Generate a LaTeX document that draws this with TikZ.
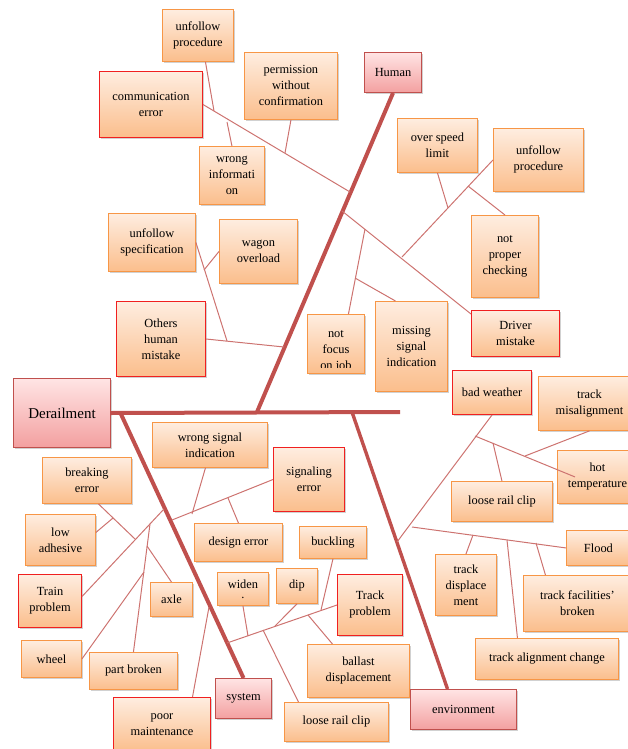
\documentclass[tikz,border=0pt]{standalone}
\usepackage{fontspec}
\setmainfont{Liberation Serif}
\usetikzlibrary{shadows,calc}
\definecolor{bone}{HTML}{C0504D}
\definecolor{twig}{RGB}{205,115,112}
\definecolor{obord}{HTML}{F79646}
\definecolor{otop}{HTML}{FEEDE0}
\definecolor{obot}{HTML}{FBBE8C}
\definecolor{rbord}{HTML}{F02020}
\definecolor{ptop}{HTML}{FFE4E4}
\definecolor{pbot}{HTML}{F3A0A0}
\definecolor{pbord}{HTML}{C0504D}
\tikzset{
  base/.style={rectangle, anchor=north west, inner sep=2pt, align=center,
    font=\fontsize{12.4}{16}\selectfont,
    drop shadow={shadow xshift=1.5pt, shadow yshift=-1.5pt, opacity=0.3, fill=black!60},
    top color=otop, bottom color=obot},
  obox/.style={base, draw=obord, line width=0.9pt},
  rbox/.style={base, draw=rbord, line width=1pt},
  pbox/.style={base, draw=pbord, line width=1pt, top color=ptop, bottom color=pbot},
  bonel/.style={draw=bone, line width=4pt},
  twigl/.style={draw=twig, line width=1pt},
  sz/.style 2 args={minimum width=#1pt, minimum height=#2pt},
}
\begin{document}
\begin{tikzpicture}[x=1pt,y=-1pt]
\useasboundingbox (0,0) rectangle (627,749);
% ---------- nodes ----------
\node[obox, sz={71}{52}] (up1) at (162,9) {unfollow\\procedure};
\node[rbox, sz={103}{66}] (comm) at (99,71) {communication\\error};
\node[obox, sz={93}{67}] (perm) at (244,52) {permission\\without\\confirmation};
\node[obox, sz={65}{58}] (winfo) at (199,146) {wrong\\informati\\on};
\node[pbox, sz={57}{40}] (human) at (364,52) {Human};
\node[obox, sz={80}{54}] (speed) at (397,118) {over speed\\limit};
\node[obox, sz={90}{63}] (up2) at (493,128) {unfollow\\procedure};
\node[obox, sz={67}{82}] (check) at (471,215) {not\\proper\\checking};
\node[rbox, sz={88}{46}] (driver) at (471,310) {Driver\\mistake};
\node[obox, sz={57}{59}, path picture={
   \clip ([yshift=6pt]path picture bounding box.south west) rectangle (path picture bounding box.north east);
   \node[anchor=center, align=center, font=\fontsize{12.4}{16}\selectfont, inner sep=0pt, draw=none, fill=none]
     at ([yshift=-7pt]path picture bounding box.center) {not\\focus\\on job};}] (focus) at (307,314) {};
\node[obox, sz={72}{90}] (missing) at (375,301) {missing\\signal\\indication};
\node[rbox, sz={79}{44}] (weather) at (452,370) {bad weather};
\node[obox, sz={102}{54}] (misalign) at (538,376) {track\\misalignment};
\node[obox, sz={87}{58}] (uspec) at (108,213) {unfollow\\specification};
\node[obox, sz={78}{64}] (wagon) at (219,219) {wagon\\overload};
\node[rbox, sz={89}{75}] (others) at (116,301) {Others\\human\\mistake};
\node[pbox, sz={97}{69}, font=\fontsize{15}{18}\selectfont] (derail) at (13,378) {Derailment};
\node[obox, sz={115}{45}] (wsig) at (152,422) {wrong signal\\indication};
\node[rbox, sz={71}{64}] (sigerr) at (273,447) {signaling\\error};
\node[obox, sz={89}{46}] (brake) at (42,457) {breaking\\error};
\node[obox, sz={70}{51}] (lowad) at (25,514) {low\\adhesive};
\node[rbox, sz={63}{53}] (train) at (18,574) {Train\\problem};
\node[obox, sz={88}{38}] (design) at (194,523) {design error};
\node[obox, sz={67}{32}] (buckling) at (299,526) {buckling};
\node[obox, sz={51}{33}] (widen) at (217,572) {widen\\[-6pt].};
\node[obox, sz={41}{35}] (dip) at (276,568) {dip};
\node[obox, sz={42}{34}] (axle) at (150,582) {axle};
\node[obox, sz={60}{37}] (wheel) at (21,640) {wheel};
\node[obox, sz={88}{37}] (partb) at (89,652) {part broken};
\node[rbox, sz={97}{54}] (poor) at (113,697) {poor\\maintenance};
\node[pbox, sz={56}{40}] (system) at (215,678) {system};
\node[rbox, sz={65}{61}] (trackp) at (337,574) {Track\\problem};
\node[obox, sz={102}{53}] (ballast) at (307,644) {ballast\\displacement};
\node[obox, sz={104}{39}] (lrc1) at (284,702) {loose rail clip};
\node[pbox, sz={106}{40}] (env) at (410,689) {environment};
\node[obox, sz={101}{40}] (lrc2) at (451,481) {loose rail clip};
\node[obox, sz={80}{53}] (hot) at (557,450) {hot\\temperature};
\node[obox, sz={64}{35}] (flood) at (566,530) {Flood};
\node[obox, sz={61}{61}] (tdisp) at (435,554) {track\\displace\\ment};
\node[obox, sz={108}{56}] (tfac) at (523,575) {track facilities'\\broken};
\node[obox, sz={143}{41}] (talign) at (475,638) {track alignment change};
% ---------- bones ----------
\coordinate (spineEnd) at (400,412);
\coordinate (hb) at (257,412);
\coordinate (sb) at (120,412);
\coordinate (eb) at (352,412);
\draw[bonel] (derail.east) -- (spineEnd);
\draw[bonel] (hb) -- (human.south);
\draw[bonel] (sb) -- (system.north);
\draw[bonel, line width=3.4pt] (eb) -- ([xshift=-16pt]env.north);
% ---------- human ----------
\coordinate (jC) at (350,192);
\draw[twigl] (comm.east) -- (jC);
\coordinate (c1) at (214,111);
\draw[twigl] ([xshift=7.5pt]up1.south) -- (c1);
\coordinate (c2) at (227,122);
\draw[twigl] (winfo.north) -- (c2);
\coordinate (c3) at (285,153);
\draw[twigl] (perm.south) -- (c3);
\coordinate (jD) at (342,211);
\draw[twigl] ([yshift=-4pt]driver.north west) -- (jD);
\coordinate (d1) at (402,257);
\draw[twigl] (up2.west) -- (d1);
\coordinate (d2) at (448,208);
\draw[twigl] (speed.south) -- (d2);
\coordinate (d3) at (468,186);
\draw[twigl] (check.north) -- (d3);
\coordinate (d4) at (365,229);
\draw[twigl] ([xshift=12.5pt]focus.north) -- (d4);
\coordinate (d5) at (355,278);
\draw[twigl] ([xshift=-16pt]missing.north) -- (d5);
\coordinate (jO) at (284,347);
\draw[twigl] (others.east) -- (jO);
\coordinate (o1) at (227,341);
\draw[twigl] (uspec.east) -- (o1);
\coordinate (o2) at (204,270);
\draw[twigl] (wagon.west) -- (o2);
% ---------- system ----------
\coordinate (s1) at (172,520);
\draw[twigl] (sigerr.west) -- (s1);
\coordinate (s2) at (192,514);
\draw[twigl] ([xshift=-4.5pt]wsig.south) -- (s2);
\coordinate (s3) at (228,498);
\draw[twigl] (design.north) -- (s3);
\coordinate (s4) at (164,509);
\draw[twigl] ([yshift=4.5pt]train.east) -- (s4);
\coordinate (s5) at (135,539);
\draw[twigl] ([xshift=11.5pt]brake.south) -- (s5);
\coordinate (s6) at (113,518);
\draw[twigl] ([yshift=7.5pt]lowad.east) -- (s6);
\coordinate (s7) at (150,524);
\draw[twigl] (partb.north) -- (s7);
\coordinate (s8) at (147,546);
\draw[twigl] (axle.north) -- (s8);
\coordinate (s9) at (144,572);
\draw[twigl] (wheel.east) -- (s9);
\coordinate (s10) at (209,607);
\draw[twigl] ([xshift=30.5pt]poor.north) -- (s10);
\coordinate (s11) at (227,643);
\draw[twigl] (trackp.west) -- (s11);
\coordinate (s12) at (248,636);
\draw[twigl] (widen.south) -- (s12);
\coordinate (s13) at (275,626);
\draw[twigl] (dip.south) -- (s13);
\coordinate (s14) at (321,610);
\draw[twigl] (buckling.south) -- (s14);
\coordinate (s15) at (308,615);
\draw[twigl] ([xshift=-26pt]ballast.north) -- (s15);
\coordinate (s16) at (263,630);
\draw[twigl] ([xshift=-38pt]lrc1.north) -- (s16);
% ---------- environment ----------
\coordinate (e1) at (397,542);
\draw[twigl] (weather.south) -- (e1);
\coordinate (e2) at (475,436);
\draw[twigl] (e2) -- ([xshift=18pt]hot.west);
\coordinate (e3) at (525,456);
\draw[twigl] (misalign.south) -- (e3);
\coordinate (e4) at (493,443);
\draw[twigl] (lrc2.north) -- (e4);
\coordinate (fEnd) at (412,527);
\draw[twigl] (flood.west) -- (fEnd);
\coordinate (e5) at (473,535);
\draw[twigl] (tdisp.north) -- (e5);
\coordinate (e6) at (507,540);
\draw[twigl] ([xshift=-29.5pt]talign.north) -- (e6);
\coordinate (e7) at (536,543);
\draw[twigl] ([xshift=-32pt]tfac.north) -- (e7);
\end{tikzpicture}
\end{document}
